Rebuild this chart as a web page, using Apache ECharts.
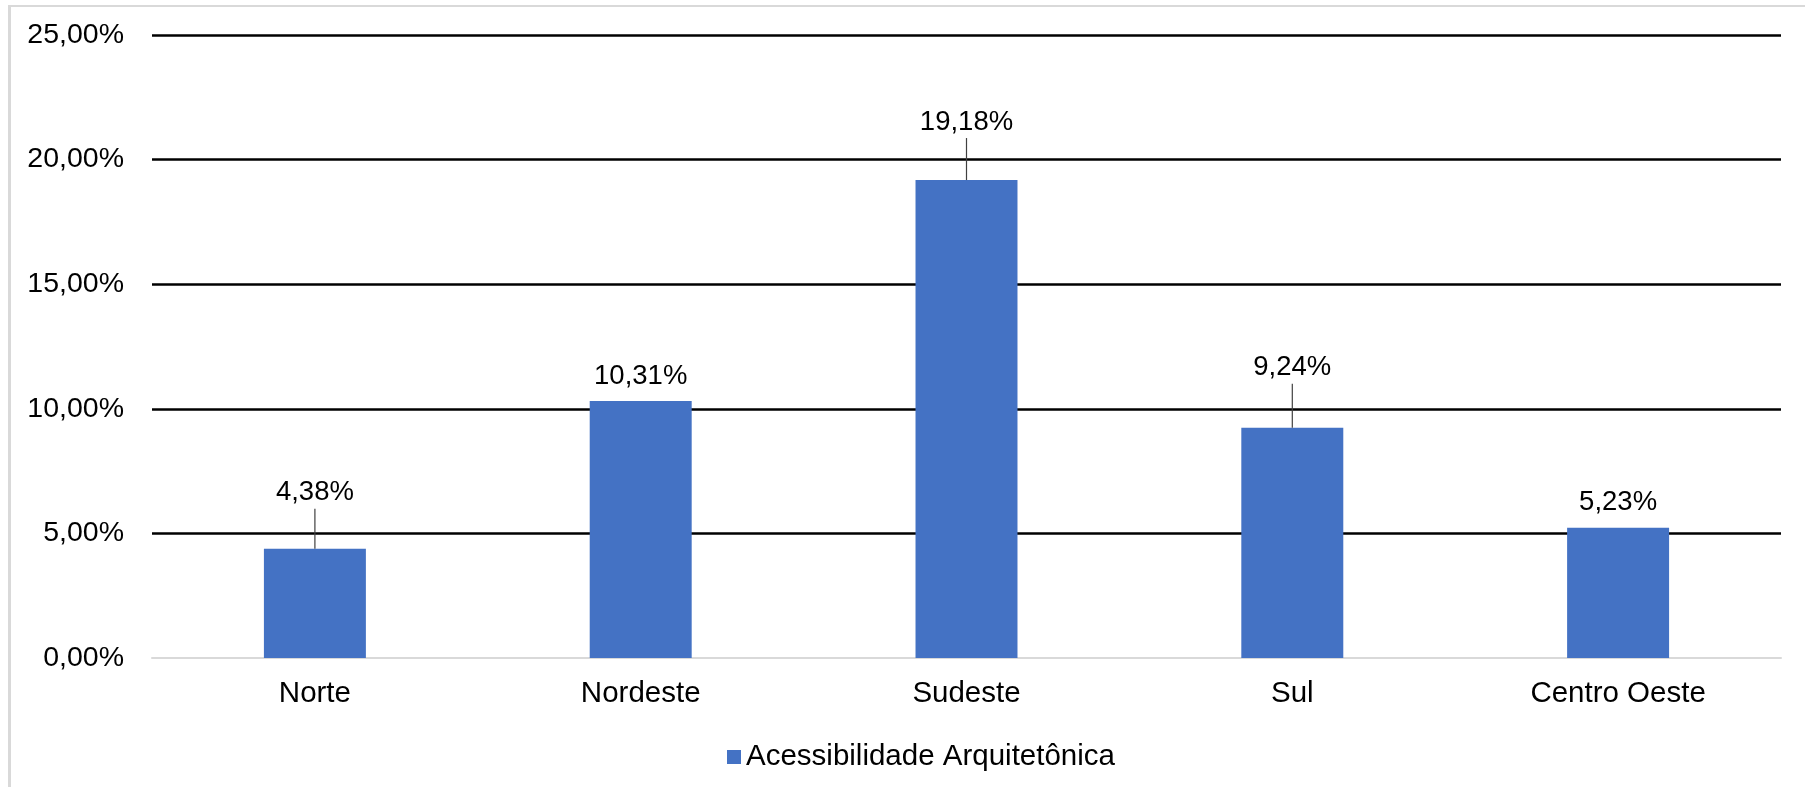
<!DOCTYPE html>
<html>
<head>
<meta charset="utf-8">
<title>Acessibilidade Arquitetônica</title>
<script src="https://cdn.jsdelivr.net/npm/echarts@6/dist/echarts.min.js"></script>
<style>
  html, body { margin: 0; padding: 0; background: #fff; }
  #main { width: 1805px; height: 787px; }
</style>
</head>
<body>
<div id="main"></div>
<script>
// dados do gráfico
var categories = ['Norte', 'Nordeste', 'Sudeste', 'Sul', 'Centro Oeste'];
var values = [4.38, 10.31, 19.18, 9.24, 5.23];
var seriesName = 'Acessibilidade Arquitetônica';
var yMin = 0, yMax = 25, yStep = 5;

// rótulos afastados da barra (com linha de chamada) e distância em px
var hasLeader = [true, false, true, true, false];
var labelLift = [56, 25, 58, 60, 25];

function pct(v) {
    return v.toFixed(2).replace('.', ',') + '%';
}

var myChart = echarts.init(document.getElementById('main'));

var barData = values.map(function (v, i) {
    return {
        value: v,
        label: { distance: labelLift[i] - 14 }
    };
});

var option = {
    animation: false,
    textStyle: { fontFamily: 'Liberation Sans, Arial, sans-serif' },
    graphic: [
        { type: 'line', shape: { x1: 9.5, y1: 6, x2: 9.5, y2: 787 }, style: { stroke: '#d9d9d9', lineWidth: 3 } },
        { type: 'line', shape: { x1: 8, y1: 6, x2: 1805, y2: 6 }, style: { stroke: '#d9d9d9', lineWidth: 2 } }
    ],
    grid: { left: 152, right: 24, top: 35, bottom: 129 },
    legend: {
        data: [seriesName],
        left: 722,
        top: 737,
        icon: 'rect',
        itemWidth: 14,
        itemHeight: 14,
        textStyle: { fontSize: 29.5, color: '#000', lineHeight: 29 }
    },
    xAxis: {
        type: 'category',
        data: categories,
        axisLine: { lineStyle: { color: '#d9d9d9', width: 2 } },
        axisTick: { show: false },
        axisLabel: { fontSize: 29.5, color: '#000', margin: 21 }
    },
    yAxis: {
        type: 'value',
        min: yMin,
        max: yMax,
        interval: yStep,
        axisLine: { show: false },
        axisTick: { show: false },
        axisLabel: { fontSize: 28.5, color: '#000', margin: 28, formatter: pct },
        splitLine: { showMinLine: false, lineStyle: { color: '#000', width: 2.5 } }
    },
    series: [
        {
            name: seriesName,
            type: 'bar',
            barWidth: '31.3%',
            itemStyle: { color: '#4472C4' },
            label: {
                show: true,
                position: 'top',
                fontSize: 27.5,
                lineHeight: 28,
                color: '#000',
                formatter: function (p) { return pct(p.value); }
            },
            data: barData
        },
        {
            name: 'linhas',
            type: 'custom',
            silent: true,
            z: 3,
            data: values.map(function (v, i) { return [i, v]; }),
            renderItem: function (params, api) {
                var i = api.value(0);
                if (!hasLeader[i]) return null;
                var p = api.coord([i, api.value(1)]);
                var len = labelLift[i] - 16;
                return {
                    type: 'line',
                    shape: { x1: p[0], y1: p[1], x2: p[0], y2: p[1] - len },
                    style: { stroke: '#404040', lineWidth: 1.2 }
                };
            }
        }
    ]
};

myChart.setOption(option);
</script>
</body>
</html>
